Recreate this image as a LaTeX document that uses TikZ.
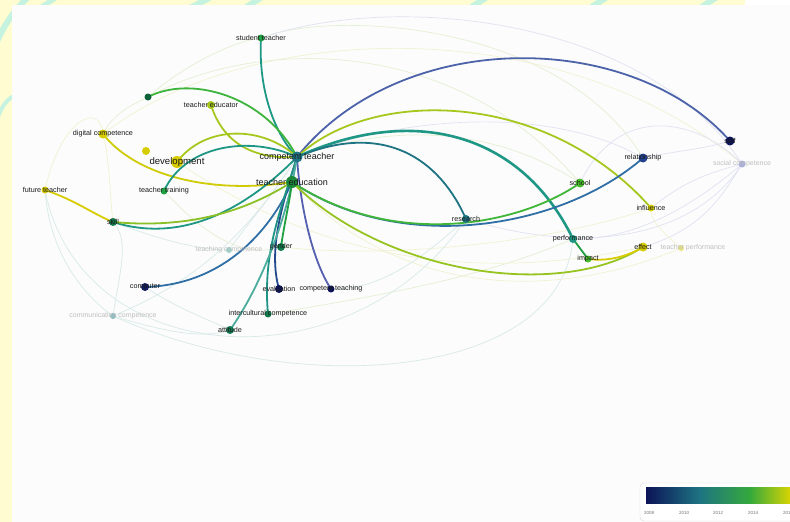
\documentclass[tikz,border=0pt]{standalone}
\usepackage{fontspec}
\setmainfont{Liberation Sans}
\pgfdeclarelayer{frame}
\pgfdeclarelayer{edges}
\pgfsetlayers{frame,edges,main}
\definecolor{bgyel}{HTML}{FFFCD2}
\definecolor{mint}{HTML}{C6F3DF}
\definecolor{plotbg}{HTML}{FCFCFC}
\definecolor{cNavy}{HTML}{0C1458}
\definecolor{cBlue}{HTML}{23408F}
\definecolor{cBlueT}{HTML}{2F6FA5}
\definecolor{cTeal}{HTML}{1E7482}
\definecolor{cTealG}{HTML}{1F9785}
\definecolor{cGreenD}{HTML}{127A4A}
\definecolor{cGreen}{HTML}{1FA043}
\definecolor{cGreenL}{HTML}{45BC2A}
\definecolor{cYG}{HTML}{A6C81E}
\definecolor{cYel}{HTML}{D6CC00}
\definecolor{cPurp}{HTML}{5560B0}
\definecolor{fGreen}{HTML}{E4EFD4}
\definecolor{fYel}{HTML}{F1F2D2}
\definecolor{fTeal}{HTML}{D8EAE8}
\definecolor{fLav}{HTML}{E0E2F2}
\tikzset{
  x=1pt, y=-1pt,
  vnode/.style={circle, inner sep=0pt, minimum size=7pt, fill=#1},
  lab/.style={font=\fontsize{7.2}{8}\selectfont, text=black!90},
  biglab/.style={font=\fontsize{9}{10}\selectfont, text=black!90},
  devlab/.style={font=\fontsize{9.6}{11}\selectfont, text=black!90},
  faintlab/.style={font=\fontsize{7}{8}\selectfont, text=black!25},
  link/.style={line width=1.8pt, draw=#1, line cap=round},
  flink/.style={line width=0.7pt, draw=#1, line cap=round},
  ticklab/.style={font=\fontsize{4.5}{5}\selectfont, text=black!55}
}
\begin{document}
\begin{tikzpicture}
\useasboundingbox (0,0) rectangle (790,522);
\clip (0,0) rectangle (790,522);
% ---------- frame ----------
\begin{pgfonlayer}{frame}
\fill[bgyel] (0,0) rectangle (790,522);
\draw[mint, line width=6pt] (-10,60) .. controls (0,30) and (10,15) .. (30,-5);
\draw[mint, line width=4pt] (-5,125) .. controls (0,110) and (5,100) .. (14,96);
\draw[mint, line width=5pt] (40,8) -- (60,-5);
\draw[mint, line width=6pt] (190,8) -- (215,-5);
\draw[mint, line width=6pt] (245,8) -- (265,-5);
\draw[mint, line width=6pt] (470,8) -- (490,-5);
\draw[mint, line width=6pt] (590,8) -- (610,-5);
\draw[mint, line width=6pt] (700,8) -- (720,-5);
\fill[white] (745,0) rectangle (790,6);
\fill[plotbg] (12,5) rectangle (790,522);
\end{pgfonlayer}
% ---------- nodes ----------
\node[vnode=cGreen, label={[lab]center:student teacher}] (st) at (261,38) {};
\node[vnode=cGreenD!80!black] (n1) at (148,97) {};
\node[vnode=cYG, minimum size=8pt, label={[lab]center:teacher educator}] (ted) at (211,105) {};
\node[vnode=cYel, minimum size=9pt, label={[lab]center:digital competence}] (dc) at (103,134) {};
\node[vnode=cYel, minimum size=8pt] (tech) at (146,151) {};
\node[vnode=cYel, minimum size=12pt, label={[devlab]center:development}] (dev) at (177,162) {};
\node[vnode=cTeal, minimum size=11pt, label={[biglab]center:competent teacher}] (ct) at (297,157) {};
\node[vnode=cGreen!85!black, minimum size=12pt, label={[biglab]center:teacher education}] (tedu) at (292,182) {};
\node[vnode=cGreen, label={[lab]center:teacher training}] (tt) at (164,191) {};
\node[vnode=cYel, label={[lab]center:future teacher}] (ft) at (45,190) {};
\node[vnode=cGreenD, minimum size=8pt, label={[lab]center:skill}] (skill) at (113,222) {};
\node[vnode=fTeal!70!cTealG, minimum size=6pt, label={[faintlab]center:teaching competence}] (tcomp) at (229,250) {};
\node[vnode=cGreenD, minimum size=8pt, label={[lab]center:gender}] (gen) at (281,247) {};
\node[vnode=cNavy!80!cBlue, minimum size=8pt, label={[lab]center:computer}] (comp) at (145,287) {};
\node[vnode=cNavy, minimum size=8pt, label={[lab]center:evaluation}] (eval) at (279,289) {};
\node[vnode=cNavy, minimum size=7pt, label={[lab]center:competent teaching}] (cteach) at (331,289) {};
\node[vnode=fTeal!60!cTeal, minimum size=6pt, label={[faintlab]center:communication competence}] (comm) at (113,316) {};
\node[vnode=cGreenD, minimum size=7pt, label={[lab]center:intercultural competence}] (ic) at (268,314) {};
\node[vnode=cGreenD!90!cTeal, minimum size=8pt, label={[lab]center:attitude}] (att) at (230,330) {};
\node[vnode=cTeal, minimum size=8pt, label={[lab]center:research}] (res) at (466,219) {};
\node[vnode=cGreenL, minimum size=9pt, label={[lab]center:school}] (school) at (580,183) {};
\node[vnode=cBlue, minimum size=9pt, label={[lab]center:relationship}] (rel) at (643,158) {};
\node[vnode=cYel!90!yellow, minimum size=7pt, label={[lab]center:influence}] (infl) at (651,208) {};
\node[vnode=cTealG, minimum size=8pt, label={[lab]center:performance}] (perf) at (573,239) {};
\node[vnode=cGreenL, minimum size=7pt, label={[lab]center:impact}] (imp) at (588,259) {};
\node[vnode=cYel, minimum size=9pt, label={[lab]center:effect}] (eff) at (643,247) {};
\node[vnode=fYel!60!cYel, minimum size=6pt, label={[faintlab, xshift=12pt]center:teacher performance}] (tperf) at (681,248) {};
\node[vnode=cNavy, minimum size=9pt, label={[lab]center:self}] (self) at (730,141) {};
\node[vnode=fLav!60!cPurp, minimum size=7pt, label={[faintlab]center:social competence}] (soc) at (742,164) {};
% ---------- edges ----------
\begin{pgfonlayer}{edges}
% faint background links
\draw[flink=fGreen] (st.center) .. controls (330,10) and (560,20) .. (rel.center);
\draw[flink=fLav] (st.center) .. controls (400,-10) and (650,20) .. (soc.center);
\draw[flink=fYel] (dc.center) .. controls (250,20) and (560,10) .. (soc.center);
\draw[flink=fGreen] (n1.center) .. controls (250,40) and (450,30) .. (school.center);
\draw[flink=fYel] (ft.center) .. controls (60,120) and (100,100) .. (dc.center);
\draw[flink=fTeal] (ft.center) .. controls (50,260) and (90,300) .. (comm.center);
\draw[flink=fYel] (dc.center) .. controls (110,160) and (110,200) .. (skill.center);
\draw[flink=fGreen] (n1.center) .. controls (120,110) and (110,120) .. (dc.center);
\draw[flink=fGreen] (n1.center) .. controls (190,60) and (240,40) .. (st.center);
\draw[flink=fTeal] (skill.center) .. controls (160,240) and (200,250) .. (tcomp.center);
\draw[flink=fTeal] (comm.center) .. controls (160,330) and (200,340) .. (att.center);
\draw[flink=fTeal] (comm.center) .. controls (120,270) and (130,240) .. (skill.center);
\draw[flink=fTeal] (comp.center) .. controls (180,310) and (210,320) .. (att.center);
\draw[flink=fTeal] (comm.center) .. controls (200,280) and (250,230) .. (ct.center);
\draw[flink=fTeal] (tcomp.center) .. controls (250,220) and (270,200) .. (ct.center);
\draw[flink=fLav] (soc.center) .. controls (700,200) and (640,240) .. (perf.center);
\draw[flink=fLav] (soc.center) .. controls (700,230) and (600,260) .. (res.center);
\draw[flink=fLav] (soc.center) .. controls (720,200) and (700,230) .. (eff.center);
\draw[flink=fLav] (soc.center) .. controls (700,175) and (680,185) .. (infl.center);
\draw[flink=fLav] (self.center) .. controls (700,150) and (680,150) .. (rel.center);
\draw[flink=fLav] (soc.center) .. controls (700,120) and (620,100) .. (school.center);
\draw[flink=fYel] (tperf.center) .. controls (660,230) and (650,220) .. (infl.center);
\draw[flink=fYel] (tperf.center) .. controls (560,300) and (400,300) .. (tedu.center);
\draw[flink=fYel] (infl.center) .. controls (560,240) and (400,260) .. (gen.center);
\draw[flink=fGreen] (school.center) .. controls (500,130) and (400,120) .. (ct.center);
\draw[flink=fTeal] (res.center) .. controls (420,260) and (380,290) .. (cteach.center);
\draw[flink=fLav] (rel.center) .. controls (560,110) and (420,110) .. (ct.center);
\draw[flink=fGreen] (perf.center) .. controls (500,270) and (420,290) .. (ic.center);
\draw[flink=fYel] (dev.center) .. controls (250,210) and (400,300) .. (eff.center);
\draw[flink=fTeal] (comm.center) .. controls (300,400) and (560,380) .. (perf.center);
\draw[flink=fTeal] (ft.center) .. controls (80,370) and (350,390) .. (res.center);
\draw[flink=fGreen] (tt.center) .. controls (200,230) and (240,260) .. (gen.center);
% main links
\draw[link=cTealG] (st.center) .. controls (258,90) and (275,135) .. (ct.center);
\draw[link=cGreenL!80!cTealG] (n1.center) .. controls (190,75) and (265,95) .. (ct.center);
\draw[link=cYG] (ted.center) .. controls (222,140) and (250,160) .. (ct.center);
\draw[link=cYel!85!cYG] (dc.center) .. controls (135,175) and (210,195) .. (tedu.center);
\draw[link=cYG] (dev.center) .. controls (205,125) and (262,125) .. (ct.center);
\draw[link=cTealG] (tt.center) .. controls (185,145) and (250,135) .. (ct.center);
\draw[link=cYel] (ft.center) .. controls (75,200) and (95,215) .. (skill.center);
\draw[link=cTealG] (skill.center) .. controls (185,245) and (250,205) .. (ct.center);
\draw[link=cYG!80!cGreen] (skill.center) .. controls (200,230) and (255,205) .. (tedu.center);
\draw[link=cBlueT] (comp.center) .. controls (220,285) and (268,235) .. (tedu.center);
\draw[link=cBlue!80!cTeal] (eval.center) .. controls (268,250) and (282,205) .. (ct.center);
\draw[link=cPurp] (cteach.center) .. controls (312,260) and (300,205) .. (ct.center);
\draw[link=cTealG!90!cTeal] (ic.center) .. controls (262,250) and (283,205) .. (ct.center);
\draw[link=cTealG!80!white] (att.center) .. controls (262,285) and (288,215) .. (ct.center);
\draw[link=cGreen] (gen.center) .. controls (284,225) and (290,200) .. (tedu.center);
\draw[link=cPurp!85!cTeal] (ct.center) .. controls (400,28) and (630,28) .. (self.center);
\draw[link=cYG] (ct.center) .. controls (370,88) and (545,88) .. (infl.center);
\draw[link=cTealG, line width=2.6pt] (ct.center) .. controls (410,105) and (520,130) .. (perf.center);
\draw[link=cGreen] (perf.center) -- (imp.center);
\draw[link=cTeal] (ct.center) .. controls (385,120) and (440,160) .. (res.center);
\draw[link=cBlueT] (tedu.center) .. controls (400,255) and (560,230) .. (rel.center);
\draw[link=cGreenL!85!cTealG] (tedu.center) .. controls (395,250) and (520,225) .. (school.center);
\draw[link=cYG!90!cGreen] (tedu.center) .. controls (385,275) and (560,300) .. (eff.center);
\draw[link=cYel] (imp.center) .. controls (610,262) and (630,255) .. (eff.center);
\end{pgfonlayer}
% ---------- legend ----------
\draw[gray!30, fill=white, rounded corners=4pt] (640,483) rectangle (806,521);
\shade[left color=cNavy, right color=cTeal] (646,487) rectangle (700,503);
\shade[left color=cTeal, right color=cGreen!90!yellow] (700,487) rectangle (750,503);
\shade[left color=cGreen!90!yellow, right color=cYel!80!yellow] (750,487) rectangle (792,503);
\node[ticklab] (t08) at (649,513) {2008};
\node[ticklab] (t10) at (684,513) {2010};
\node[ticklab] (t12) at (718,513) {2012};
\node[ticklab] (t14) at (753,513) {2014};
\node[ticklab] (t16) at (788,513) {2016};
\end{tikzpicture}
\end{document}
